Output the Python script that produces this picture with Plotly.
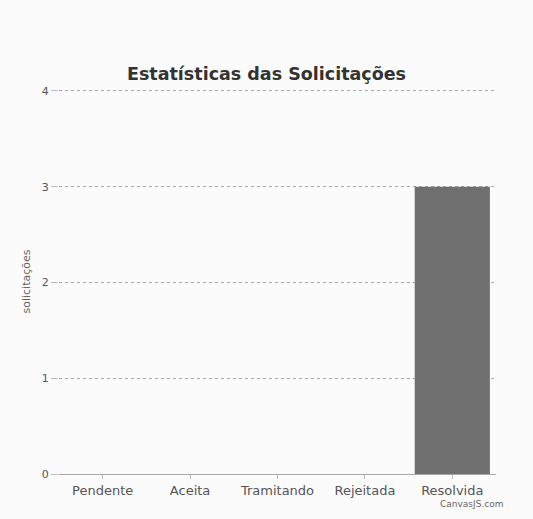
import plotly.graph_objects as go

categories = ["Pendente", "Aceita", "Tramitando", "Rejeitada", "Resolvida"]
values = [0, 0, 0, 0, 3]
y_ticks = [0, 1, 2, 3, 4]

fig = go.Figure(go.Bar(
    x=categories, y=values,
    marker=dict(color="#6f6f6f", line=dict(width=0)),
))

fig.update_layout(
    width=533, height=519,
    margin=dict(l=59, r=37, t=89, b=45),
    paper_bgcolor="#fbfbfb", plot_bgcolor="#fbfbfb",
    bargap=0.14,
    showlegend=False,
    font=dict(family="DejaVu Sans", color="#555555"),
    title=dict(text="<b>Estatísticas das Solicitações</b>", x=0.5, xanchor="center",
               y=1 - 74/519, yanchor="middle",
               font=dict(family="DejaVu Sans", size=17.5, color="#333333")),
    annotations=[dict(text="CanvasJS.com", xref="paper", yref="paper",
                      x=1.02, y=-0.06, xanchor="right", yanchor="top",
                      showarrow=False, font=dict(size=9, color="#666666"))],
)
fig.update_xaxes(showgrid=False, showline=False, ticks="outside", ticklen=4,
                 tickcolor="#bbbbbb", tickfont=dict(size=13, color="#555555"))
fig.update_yaxes(range=[0, 4.02], tickvals=y_ticks, showgrid=True, gridcolor="#a8a8a8",
                 griddash="dot", gridwidth=1, zeroline=True, zerolinecolor="#a8a8a8",
                 zerolinewidth=1,
                 ticks="outside", ticklen=7, tickcolor="#bbbbbb",
                 tickfont=dict(size=11, color="#555555"),
                 title=dict(text="solicitações", font=dict(size=11, color="#666666"), standoff=8))

fig.write_html("out.html", config={"displayModeBar": False},
               post_script="document.body.style.margin='0';")
